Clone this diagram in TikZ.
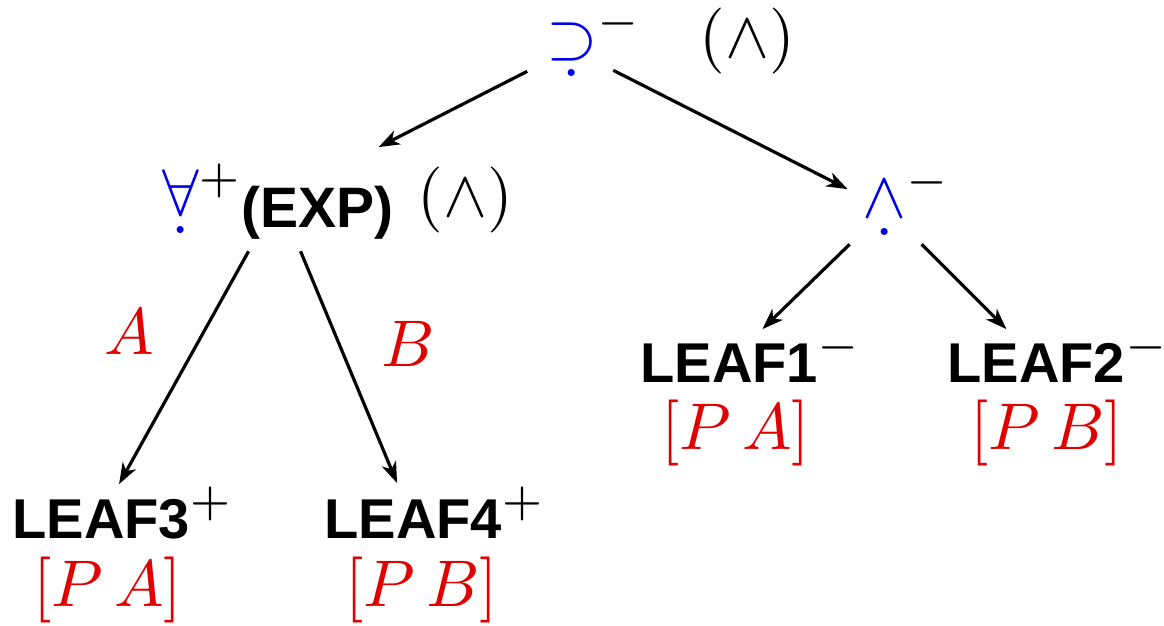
\documentclass[tikz,border=0pt]{standalone}
\usepackage{fontspec}
\setsansfont{Liberation Sans}
\usetikzlibrary{arrows.meta}
\definecolor{symblue}{RGB}{0,0,235}
\definecolor{labred}{RGB}{225,0,0}
\newcommand{\lsize}{\fontsize{8.5}{10}\selectfont\sffamily\bfseries}
\newcommand{\udot}[1]{\ooalign{$#1$\cr\hidewidth\raisebox{-4.6pt}[0pt][0pt]{$\cdot$}\hidewidth\cr}}
\newcommand{\upmark}[1]{{\fontsize{10}{12}\selectfont$^{#1}$}}

\begin{document}
\begin{tikzpicture}[x=1pt,y=1pt,
  sym/.style={font=\fontsize{10}{12}\selectfont,scale=6.6,inner sep=0,anchor=base west},
  leaf/.style={font=\lsize,scale=6.6,inner sep=0,anchor=base west},
  lab/.style={sym,text=labred},
  arr/.style={line width=3.2pt,-{Stealth[length=21pt,width=15pt,inset=6pt]}}]
\useasboundingbox (0,0) rectangle (1164,626);
% operators
\node[sym] (root) at (545,567) {{\color{symblue}\udot{\supset}}\upmark{-}};
\node[sym] (rootop) at (698.5,568.5) {$(\wedge)$};
\node[sym] (forall) at (161,410) {{\color{symblue}\udot{\forall}}\upmark{+}};
\node[leaf,font=\fontsize{8.64}{10}\selectfont\sffamily\bfseries] (exp) at (240,398) {(EXP)};
\node[sym] (forallop) at (416.5,409.5) {$(\wedge)$};
\node[sym] (wedge) at (861,408) {{\color{symblue}\udot{\wedge}}\upmark{-}};
% leaves
\node[leaf] (leaf1) at (639,243) {LEAF1\upmark{-}};
\node[lab] (leaf1lab) at (660,176) {$[P\,A]$};
\node[leaf] (leaf2) at (946,243) {LEAF2\upmark{-}};
\node[lab] (leaf2lab) at (969,176) {$[P\,B]$};
\node[leaf] (leaf3) at (11,87) {LEAF3\upmark{+}};
\node[lab] (leaf3lab) at (32,19) {$[P\,A]$};
\node[leaf] (leaf4) at (323,87) {LEAF4\upmark{+}};
\node[lab] (leaf4lab) at (344,19) {$[P\,B]$};
% branch labels
\node[lab] (a) at (103,271) {$A$};
\node[lab] (b) at (380,259) {$B$};
% edges
\draw[arr] ([shift={(-67,-11)}]root.south) -- ([shift={(176,15)}]forall.north);
\draw[arr] ([shift={(19,-10)}]root.south) -- ([shift={(-59,-25)}]wedge.north);
\draw[arr] ([shift={(46,-34)}]forall.south) -- ([shift={(-4,1)}]leaf3.north);
\draw[arr] ([shift={(98,-34)}]forall.south) -- ([shift={(-38,2)}]leaf4.north);
\draw[arr] ([shift={(-57,-25)}]wedge.south) -- ([shift={(11,0)}]leaf1.north);
\draw[arr] ([shift={(15,-25)}]wedge.south) -- ([shift={(-52,0)}]leaf2.north);
\end{tikzpicture}
\end{document}
